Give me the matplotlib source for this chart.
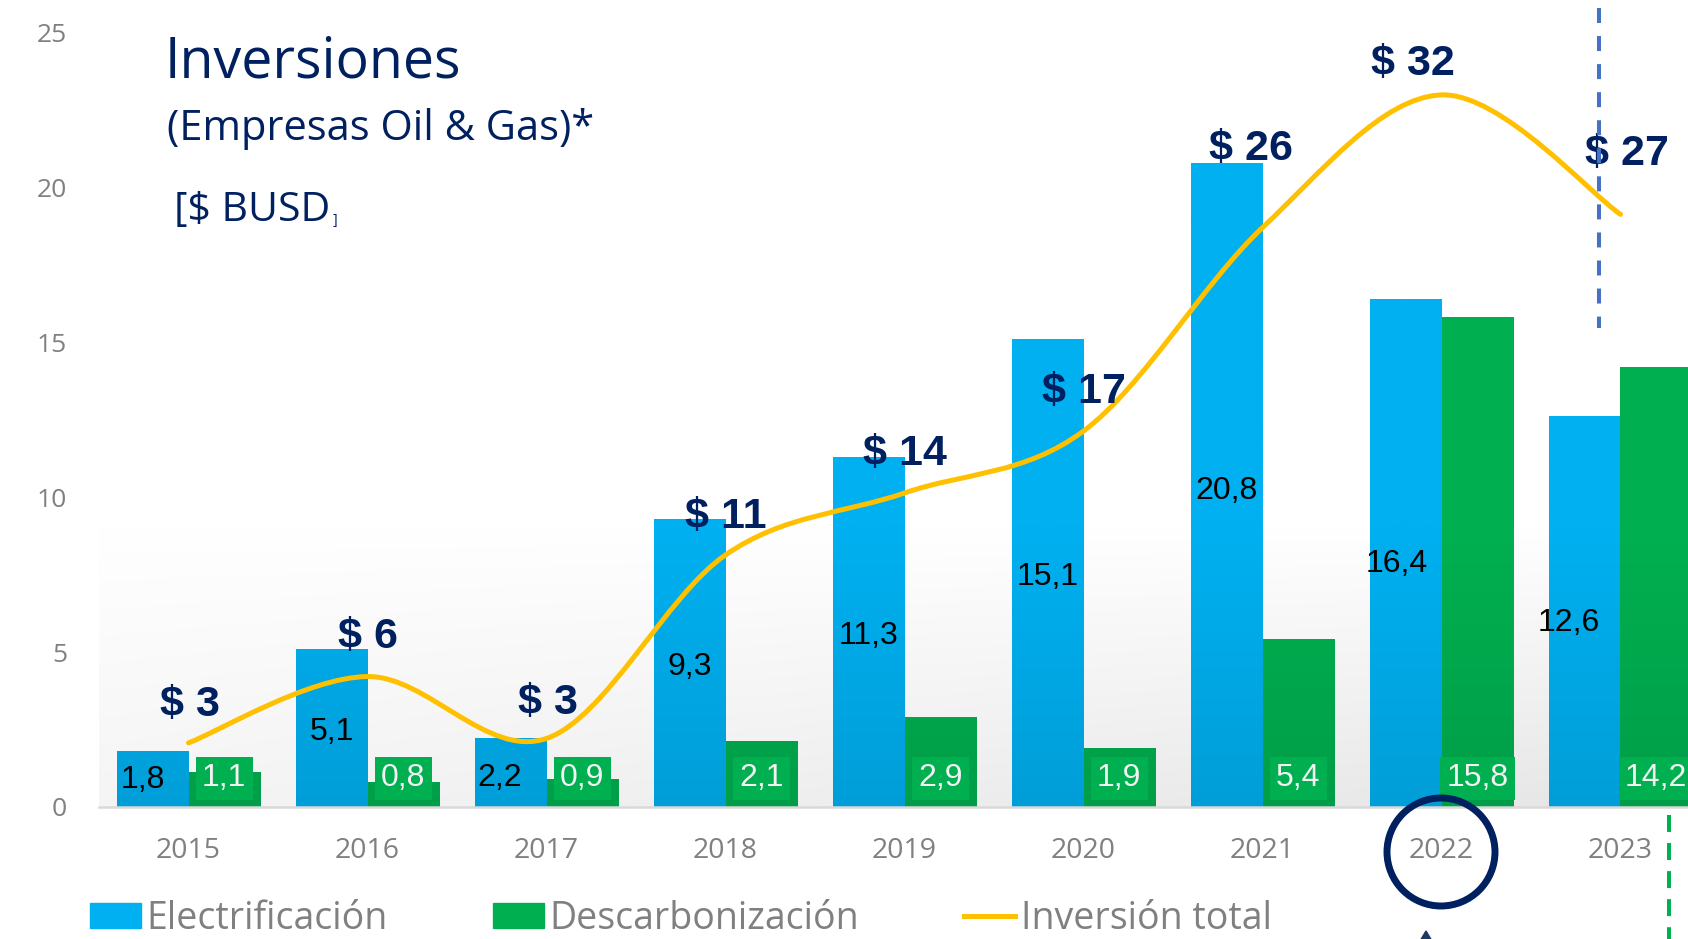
import numpy as np
import matplotlib.pyplot as plt
from matplotlib.patches import Patch, Circle, Polygon, PathPatch
from matplotlib.lines import Line2D
from matplotlib.path import Path
from matplotlib.colors import to_rgb

plt.rcParams['font.family'] = ['Open Sans', 'DejaVu Sans']
plt.rcParams['lines.scale_dashes'] = False

# ---- data ----
years = ['2015', '2016', '2017', '2018', '2019', '2020', '2021', '2022', '2023']
electrificacion = [1.8, 5.1, 2.2, 9.3, 11.3, 15.1, 20.8, 16.4, 12.6]
descarbonizacion = [1.1, 0.8, 0.9, 2.1, 2.9, 1.9, 5.4, 15.8, 14.2]
inversion_total = [e + d for e, d in zip(electrificacion, descarbonizacion)]
y_ticks = [0, 5, 10, 15, 20, 25]

# label nudges in pixels (right / up = +)
total_label_offsets = [(1, 38), (0, 40), (1, 35), (0, 38), (0, 39), (0, 39),
                       (-12, 79), (-29, 31), (6, 60)]
elec_label_offsets = [(-10, -1), (0, -4), (-11, -5), (0, -4), (0, -4), (0, -4),
                      (0, -6), (-9, -11), (-16, -11)]

BLUE = '#00B0F0'
GREEN = '#00B050'
YELLOW = '#FFC000'
NAVY = '#002060'
GREY = '#808080'
ARIAL = ['Liberation Sans', 'DejaVu Sans']

W, H = 1688, 939
fig = plt.figure(figsize=(W / 100, H / 100), dpi=100)


def px(xp, yp):
    # figure pixel (top-left origin) -> inches for dpi_scale_trans
    return (xp / 100, (H - yp) / 100)


ax = fig.add_axes([99 / W, (H - 807) / H, 1611 / W, 774 / H])

x = np.arange(len(years))
bw = 0.4
bars_e = ax.bar(x - bw / 2, electrificacion, bw, color=BLUE, zorder=2)
bars_d = ax.bar(x + bw / 2, descarbonizacion, bw, color=GREEN, zorder=2)


# subtle darkening of the bars toward the baseline
def shade(bars, color):
    rgb = np.array(to_rgb(color))
    for r in bars:
        x0, w, h = r.get_x(), r.get_width(), r.get_height()
        ys = np.linspace(0, h, 64)
        f = 1 - 0.10 * np.clip(1 - ys / 9, 0, 1)
        img = (rgb[None, :] * f[:, None])[:, None, :]
        ax.imshow(img, extent=[x0, x0 + w, 0, h], origin='lower',
                  aspect='auto', zorder=2.1, interpolation='bilinear')


shade(bars_e, BLUE)
shade(bars_d, GREEN)

# light grey gradient in the plot area
gy = np.linspace(0, 25, 120)
gx = np.linspace(0, 1, 60)
dark = np.clip(1 - gy / 9, 0, 1)[:, None] * (0.04 + 0.06 * gx[None, :])
bg = 1 - dark
ax.imshow(np.dstack([bg, bg, bg]), extent=[-0.5, 8.5, 0, 25], origin='lower',
          aspect='auto', zorder=0, interpolation='bilinear')

ax.set_xlim(-0.5, 8.5)
ax.set_ylim(0, 25)
for s in ['top', 'right', 'left']:
    ax.spines[s].set_visible(False)
ax.spines['bottom'].set_color('#D9D9D9')
ax.spines['bottom'].set_linewidth(1.8)
ax.set_xticks(x, years)
ax.set_yticks(y_ticks)
ax.tick_params(axis='x', length=0, pad=21.5, labelsize=20.5, labelcolor=GREY)
ax.tick_params(axis='y', length=0, pad=23, labelsize=19, labelcolor=GREY)


def fmt(v):
    return f'{v:.1f}'.replace('.', ',')


for r, v, off in zip(bars_e, electrificacion, elec_label_offsets):
    ax.annotate(fmt(v), xy=(r.get_x() + r.get_width() / 2, v / 2),
                xytext=off, textcoords='offset pixels', ha='center',
                va='center', fontsize=23, family=ARIAL, color='black',
                zorder=5)

for r, v in zip(bars_d, descarbonizacion):
    ax.text(r.get_x() + r.get_width() / 2, 0.93, fmt(v), ha='center',
            va='center', fontsize=23, family=ARIAL, color='#F2F2F2', zorder=5,
            bbox=dict(boxstyle='square,pad=0.2', fc=GREEN, ec='none'))

# total investment on a hidden secondary axis
ax2 = ax.twinx()
ax2.set_ylim(0, 35)
ax2.axis('off')

pts = np.column_stack([x, inversion_total])
n = len(pts)
verts = [pts[0]]
codes = [Path.MOVETO]
for i in range(n - 1):
    p0 = pts[max(i - 1, 0)]
    p1 = pts[i]
    p2 = pts[i + 1]
    p3 = pts[min(i + 2, n - 1)]
    verts += [p1 + (p2 - p0) / 6, p2 - (p3 - p1) / 6, p2]
    codes += [Path.CURVE4] * 3
ax2.add_patch(PathPatch(Path(verts, codes), fill=False, edgecolor=YELLOW,
                        lw=3.6, capstyle='round', zorder=3))

for i, t in enumerate(inversion_total):
    ax2.annotate(f'$ {round(t)}', xy=(i, t), xytext=total_label_offsets[i],
                 textcoords='offset pixels', ha='center', va='center',
                 fontsize=31, fontweight='bold', color=NAVY, family=ARIAL)

# titles
fig.text(165 / W, 1 - 77 / H, 'Inversiones', fontsize=40, color=NAVY,
         va='baseline')
fig.text(167 / W, 1 - 140 / H, '(Empresas Oil & Gas)*', fontsize=30,
         color=NAVY, va='baseline')
fig.text(174 / W, 1 - 221 / H, '[$ BUSD', fontsize=29.5, color=NAVY,
         va='baseline')
fig.text(333 / W, 1 - 224 / H, ']', fontsize=10, color=NAVY, va='baseline')

# decorations: circle on 2022, dashed markers, small arrow tip
fig.add_artist(Circle(px(1441, 852), 0.54, transform=fig.dpi_scale_trans,
                      fill=False, ec=NAVY, lw=5, zorder=6))
fig.add_artist(Line2D([15.99, 15.99], [px(0, 8)[1], px(0, 328)[1]],
                      transform=fig.dpi_scale_trans, color='#4472C4', lw=2.9,
                      linestyle=(0, (10.8, 9.4)), zorder=6))
fig.add_artist(Line2D([16.69, 16.69], [px(0, 815)[1], px(0, 950)[1]],
                      transform=fig.dpi_scale_trans, color=GREEN, lw=2.9,
                      linestyle=(0, (12.2, 8)), zorder=6))
fig.add_artist(Polygon([px(1420, 941), px(1432, 941), px(1426, 931)],
                       transform=fig.dpi_scale_trans, color='#1F3864',
                       zorder=6))

handles = [Patch(color=BLUE), Patch(color=GREEN),
           Line2D([], [], color=YELLOW, lw=3.6)]
labels = ['Electrificación', 'Descarbonización', 'Inversión total']
fig.legend(handles, labels, loc='center left',
           bbox_to_anchor=(90 / W, 1 - 919 / H), ncol=3, frameon=False,
           fontsize=27, handlelength=1.36, handleheight=0.64,
           handletextpad=0.15, columnspacing=2.8, borderpad=0,
           borderaxespad=0, labelcolor=GREY)

fig.savefig('out.png', dpi=100)
